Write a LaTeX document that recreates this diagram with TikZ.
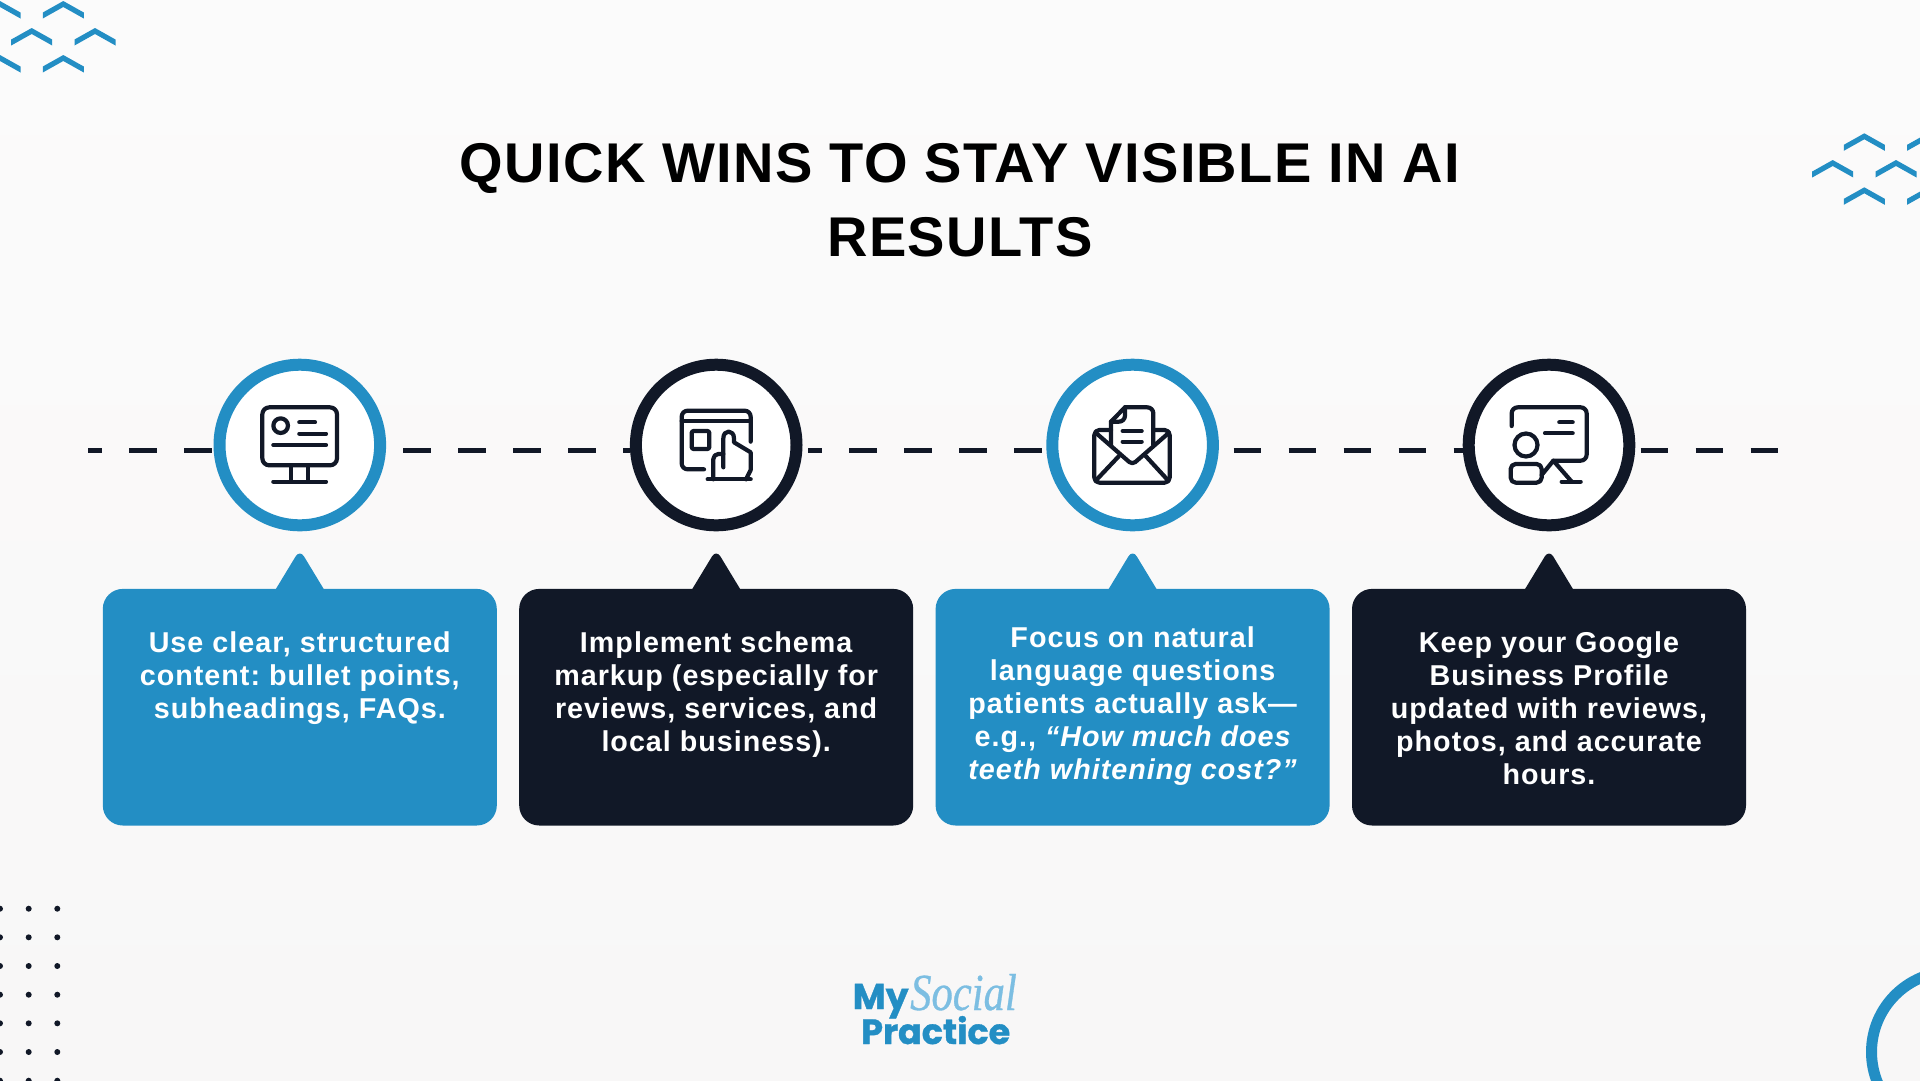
\documentclass[tikz,border=0pt]{standalone}
\usepackage{fontspec}
\setmainfont{Liberation Sans}
\newfontfamily\titlefnt[LetterSpace=2.4]{Liberation Sans}
\newfontfamily\bodyfnt[LetterSpace=3.5]{Liberation Sans}
\newfontfamily\logofnt[BoldFeatures={FakeBold=1}]{Poppins}
\newfontfamily\scriptfnt[FakeStretch=0.82,ItalicFeatures={FakeBold=0.6}]{Liberation Serif}
\definecolor{brandblue}{HTML}{238EC4}
\definecolor{navy}{HTML}{111827}
\definecolor{lightblue}{HTML}{7CBEE2}
\definecolor{bgtop}{HTML}{FBFBFB}
\definecolor{bgbottom}{HTML}{F8F7F7}
\tikzset{
  ring/.style={circle,draw=#1,fill=white,line width=12pt,minimum size=160.6pt,inner sep=0pt},
  card/.style={rectangle,fill=#1,rounded corners=20pt,minimum width=394pt,minimum height=236.6pt,inner sep=0pt},
  cardtext/.style={text=white,align=center,inner sep=0pt,font=\frenchspacing\bodyfnt\bfseries\fontsize{28.7}{33}\selectfont},
  timeline/.style={draw=navy,line width=5pt,dash pattern=on 27.5pt off 27.5pt},
  icon/.style={draw=navy,line width=4.2pt,line cap=round,line join=round},
  chev/.style={fill=brandblue},
  speck/.style={fill=navy}
}
\newcommand{\chevron}[2]{\fill[chev] (#1,#2) -- ++(20.5,11.5) -- ++(0,6) -- ++(-20.5,-11.5) -- ++(-20.5,11.5) -- ++(0,-6) -- cycle;}
\newcommand{\pointer}[2]{\fill[#2,rounded corners=8pt] (#1-30.6,600) -- (#1,549.5) -- (#1+30.6,600) [sharp corners] -- cycle;}
\begin{document}
\begin{tikzpicture}[x=1pt,y=-1pt]
\useasboundingbox (0,0) rectangle (1920,1080);
\clip (0,0) rectangle (1920,1080);
\shade[top color=bgtop,bottom color=bgbottom] (0,0) rectangle (1920,1080);

% decorations
\foreach \cx/\cy in {0/1,63.3/1,31.7/28,95/28,0/55,63.3/55,1864.3/133.3,1927.6/133.3,1832.7/160,1896/160,1864.3/187.3,1927.6/187.3}{\chevron{\cx}{\cy}}
\foreach \dx in {0,28.7,57.3}{\foreach \dy in {908.7,937.3,966,994.7,1023.3,1052,1080.7}{\fill[speck] (\dx,\dy) circle (3pt);}}
\draw[brandblue,line width=11pt] (1952,1052) circle (80.5pt);

% title
\node[font=\titlefnt\bfseries\fontsize{56}{74.5}\selectfont,align=center,inner sep=0pt,text=black] (title) at (960,200) {QUICK WINS TO STAY VISIBLE IN AI\\RESULTS};

% rings
\node[ring=brandblue] (n1) at (299.8,445) {};
\node[ring=navy] (n2) at (716.2,445) {};
\node[ring=brandblue] (n3) at (1132.6,445) {};
\node[ring=navy] (n4) at (1549,445) {};

% timeline
\coordinate (d1) at (88,450);
\coordinate (d2) at (403,450);
\coordinate (d3) at (808,450);
\coordinate (d4) at (1233.5,450);
\coordinate (d5) at (1640.6,450);
\coordinate (d6) at (1778,450);
\draw[timeline,dash phase=14pt] (d1) -- (d1 -| n1.west);
\draw[timeline] (d2) -- (d2 -| n2.west);
\draw[timeline,dash phase=14pt] (d3) -- (d3 -| n3.west);
\draw[timeline] (d4) -- (d4 -| n4.west);
\draw[timeline] (d5) -- (d6);

% cards
\pointer{299.8}{brandblue}
\pointer{716.2}{navy}
\pointer{1132.6}{brandblue}
\pointer{1549}{navy}
\node[card=brandblue] (c1) at (299.8,707.2) {};
\node[card=navy] (c2) at (716.2,707.2) {};
\node[card=brandblue] (c3) at (1132.6,707.2) {};
\node[card=navy] (c4) at (1549,707.2) {};

\node[cardtext] (t1) at (299.8,678) {Use clear, structured\\content: bullet points,\\subheadings, FAQs.};
\node[cardtext] (t2) at (716.2,694.5) {Implement schema\\markup (especially for\\reviews, services, and\\local business).};
\node[cardtext] (t3) at (1132.6,706) {Focus on natural\\language questions\\patients actually ask—\\e.g., \itshape “How much does\\\itshape teeth whitening cost?”};
\node[cardtext] (t4) at (1549,708.3) {Keep your Google\\Business Profile\\updated with reviews,\\photos, and accurate\\hours.};

% icon 1: monitor
\begin{scope}[shift={(240,380)},x=0.3333pt,y=-0.3333pt]
\draw[icon,rounded corners=7pt] (67,82) rectangle (291,256);
\draw[icon] (122,137) circle (7.3pt);
\draw[icon] (178,127) -- (225,127);
\draw[icon] (178,161) -- (258,161);
\draw[icon] (100,195) -- (258,195);
\draw[icon] (153,256) -- (153,305);
\draw[icon] (205,256) -- (205,305);
\draw[icon] (100,305) -- (258,305);
\end{scope}

% icon 2: window and hand
\begin{scope}[shift={(660,390)},x=0.3333pt,y=-0.3333pt]
\draw[icon,rounded corners=6pt] (132,238) -- (65,238) -- (65,62) -- (272,62) -- (272,155);
\draw[icon] (65,93) -- (272,93);
\draw[icon,rounded corners=2pt] (95,123) rectangle (148,177);
\draw[icon,rounded corners=5pt] (160,268) -- (160,192) -- (190,192);
\draw[icon] (190,232) -- (190,145) .. controls (190,118) and (222,118) .. (222,145) -- (222,157) -- (272,187) -- (272,240) -- (258,268);
\draw[icon] (143,268) -- (272,268);
\end{scope}

% icon 3: envelope
\begin{scope}[shift={(1075,390)},x=0.3333pt,y=-0.3333pt]
\draw[icon,rounded corners=5pt] (108,120) -- (58,120) -- (58,278) -- (284,278) -- (284,120) -- (235,120);
\draw[icon,rounded corners=4pt] (62,128) -- (172,224) -- (282,128);
\draw[icon] (62,272) -- (132,198);
\draw[icon] (280,272) -- (212,198);
\draw[icon] (108,165) -- (108,95) -- (150,52);
\draw[icon,rounded corners=6pt] (150,52) -- (235,52) -- (235,165);
\draw[icon,rounded corners=6pt] (150,52) -- (150,95) -- (108,95);
\draw[icon] (143,123) -- (200,123);
\draw[icon] (143,155) -- (200,155);
\end{scope}

% icon 4: presenter
\begin{scope}[shift={(1490,390)},x=0.3333pt,y=-0.3333pt]
\draw[icon,rounded corners=6pt] (65,108) -- (65,52) -- (290,52) -- (290,212) -- (190,212);
\draw[icon] (208,97) -- (248,97);
\draw[icon] (165,130) -- (248,130);
\draw[icon] (108,165) circle (11.5pt);
\draw[icon,rounded corners=5pt] (62,222) rectangle (155,278);
\draw[icon] (155,255) -- (190,212) -- (245,275);
\draw[icon] (215,275) -- (272,275);
\end{scope}

% logo
\node[font=\logofnt\bfseries\fontsize{36}{36}\selectfont,text=brandblue,anchor=base west,inner sep=0pt] (my) at (852.5,1009) {My};
\node[font=\scriptfnt\itshape\fontsize{52}{52}\selectfont,text=lightblue,anchor=base west,inner sep=0pt] (social) at (910,1010) {Social};
\node[font=\logofnt\bfseries\fontsize{35}{35}\selectfont,text=brandblue,anchor=base west,inner sep=0pt] (practice) at (861,1044) {Practice};
\end{tikzpicture}
\end{document}
